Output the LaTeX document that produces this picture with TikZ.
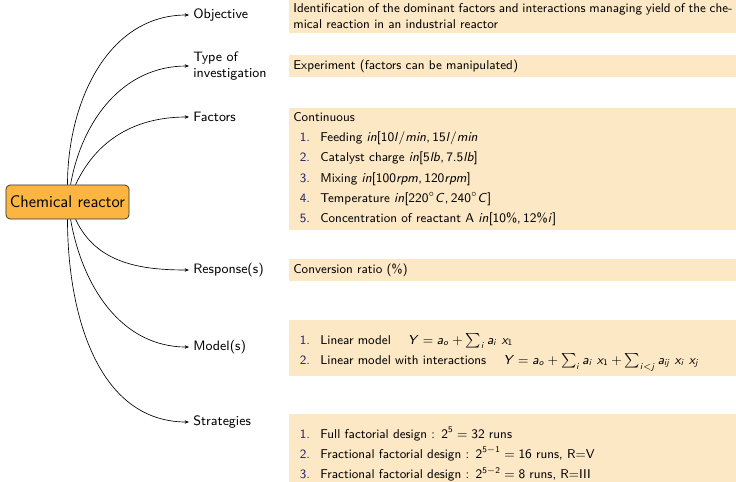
\documentclass[tikz,border=0pt]{standalone}
\usetikzlibrary{arrows.meta}
\renewcommand{\familydefault}{\sfdefault}
% sans serif math, as on a slide
\DeclareSymbolFont{cmletters}{OML}{cmm}{m}{it}
\SetSymbolFont{letters}{normal}{OT1}{cmss}{m}{sl}
\SetSymbolFont{operators}{normal}{OT1}{cmss}{m}{n}
\DeclareMathSymbol{,}{\mathpunct}{operators}{`,}
\DeclareMathSymbol{.}{\mathord}{operators}{`.}
\DeclareMathSymbol{/}{\mathord}{operators}{`/}
\DeclareMathSymbol{<}{\mathrel}{cmletters}{"3C}
\definecolor{rootc}{HTML}{FBB540}
\definecolor{boxc}{HTML}{FDE8C6}
\definecolor{numc}{HTML}{23236B}
\tikzset{
  root/.style={draw=black!80, fill=rootc, rounded corners=3pt, line width=0.5pt,
    minimum width=85pt, minimum height=23.5pt, inner sep=0pt, font=\fontsize{11.6}{14}\selectfont},
  branch/.style={anchor=west, align=left, inner sep=2.8pt, font=\fontsize{9.4}{11.2}\selectfont},
  info/.style={anchor=west, fill=boxc, text width=330pt, inner xsep=2.8pt, inner ysep=0pt,
    align=left, font=\fontsize{8.8}{14}\selectfont},
  link/.style={-{Stealth[length=3pt,width=2.4pt]}, line width=0.45pt},
}
\newcommand{\itm}[2]{\hspace*{3.5pt}\makebox[8pt][r]{\textcolor{numc}{#1.}}\hspace{7.1pt}#2}

\begin{document}
\begin{tikzpicture}[x=0.69pt, y=-0.69pt]
  \useasboundingbox (0,0) rectangle (736,481);
  % centre node and branches
  \node[root] (reactor) at (67.5,202) {Chemical reactor};
  \node[branch] (obj) at (189,15) {Objective};
  \node[branch] (type) at (189,66) {Type of\\investigation};
  \node[branch] (fac) at (189,117) {Factors};
  \node[branch] (resp) at (189,270) {Response(s)};
  \node[branch] (mod) at (189,347) {Model(s)};
  \node[branch] (strat) at (189,422) {Strategies};
  \draw[link] (reactor) to[out=90, in=180] (obj);
  \draw[link] (reactor) to[out=80, in=180] (type);
  \draw[link] (reactor) to[out=65, in=180] (fac);
  \draw[link] (reactor) to[out=-65, in=180] (resp);
  \draw[link] (reactor) to[out=-80, in=180] (mod);
  \draw[link] (reactor) to[out=-90, in=180] (strat);
  % descriptions
  \node[info, minimum height=23.5pt, font=\fontsize{8.8}{11}\selectfont] (iobj) at (289,16)
    {{\spaceskip=2.2pt plus 2pt minus 0.6pt\makebox[303pt][s]{Identification of the dominant factors and interactions managing yield of the che-}}\\mical reaction in an industrial reactor};
  \node[info, minimum height=15.2pt] (itype) at (289,66) {Experiment (factors can be manipulated)};
  \node[info, minimum height=84.2pt] (ifac) at (289,169) {Continuous\\
    \itm{1}{Feeding $in[10l/min, 15l/min$}\\
    \itm{2}{Catalyst charge $in[5lb, 7.5lb]$}\\
    \itm{3}{Mixing $in[100rpm, 120rpm]$}\\
    \itm{4}{Temperature $in[220^\circ C, 240^\circ C]$}\\
    \itm{5}{Concentration of reactant A $in[10\%, 12\%i]$}};
  \node[info, minimum height=15.2pt] (iresp) at (289,270) {Conversion ratio (\%)};
  \node[info, minimum height=38pt] (imod) at (289,348) {\rule{0pt}{13pt}%
    \itm{1}{Linear model \quad $Y = a_o + \sum_i a_i\ x_1$}\\
    \itm{2}{Linear model with interactions \quad $Y = a_o + \sum_i a_i\ x_1 + \sum_{i<j} a_{ij}\ x_i\ x_j$}};
  \node[info, minimum height=55.2pt] (istrat) at (289,454) {%
    \itm{1}{Full factorial design : $2^5 = 32$ runs}\\
    \itm{2}{Fractional factorial design : $2^{5-1} = 16$ runs, R=V}\\
    \itm{3}{Fractional factorial design : $2^{5-2} = 8$ runs, R=III}};
\end{tikzpicture}
\end{document}
